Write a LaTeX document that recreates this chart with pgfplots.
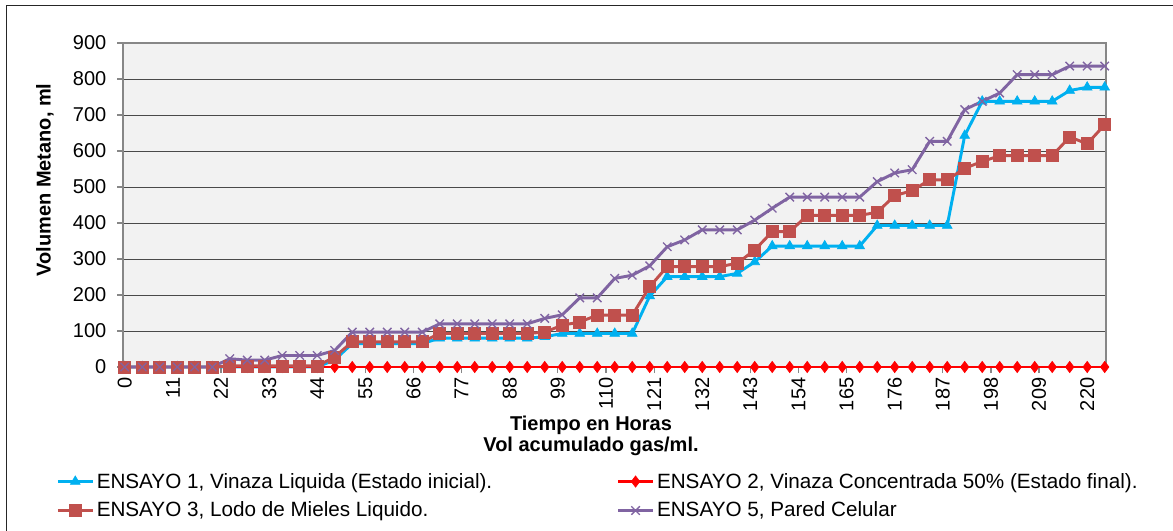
\documentclass[border=0pt]{standalone}
\usepackage{pgfplots}
\pgfplotsset{compat=1.18}
\usepackage{pgfplotstable}
\usepackage{fontspec}
\setmainfont{Liberation Sans}

\definecolor{eblue}{HTML}{00B0F0}
\definecolor{ered}{HTML}{FF0000}
\definecolor{ebrown}{HTML}{C0504D}
\definecolor{epurple}{HTML}{8064A2}
\definecolor{bggray}{HTML}{F2F2F2}
\definecolor{framegray}{HTML}{878787}
\definecolor{gridgray}{HTML}{4A4A4A}

\newcommand\cf{\fontsize{15}{18}\selectfont}
\newcommand\lf{\fontsize{15.5}{18}\selectfont}

% h  e1 e2 e3 e5   (hours, ml)
\pgfplotstableread{
h e1 e2 e3 e5
0 0 0 0 0
4 0 0 0 0
8 0 0 0 0
12 0 0 0 0
16 0 0 0 0
20 0 0 0 0
24 0 0 3 23
28 0 0 3 19
32 0 0 3 19
36 0 0 3 32
40 0 0 3 32
44 0 0 3 32
48 20 0 28 46
52 65 0 70 97
56 65 0 70 97
60 65 0 70 97
64 65 0 70 97
68 65 0 70 97
72 80 0 93 120
76 80 0 93 120
80 80 0 93 120
84 80 0 93 120
88 80 0 93 120
92 80 0 93 120
96 84 0 97 135
100 93 0 116 145
104 93 0 125 192
108 93 0 144 192
112 93 0 144 246
116 93 0 144 255
120 197 0 223 281
124 251 0 279 334
128 251 0 279 353
132 251 0 279 381
136 251 0 279 381
140 260 0 288 381
144 292 0 325 408
148 336 0 376 441
152 336 0 376 472
156 336 0 421 472
160 336 0 421 472
164 336 0 421 472
168 336 0 421 472
172 393 0 430 515
176 393 0 476 539
180 393 0 490 548
184 393 0 520 627
188 393 0 520 627
192 643 0 552 715
196 738 0 571 738
200 738 0 587 761
204 738 0 587 812
208 738 0 587 812
212 738 0 587 812
216 768 0 639 836
220 777 0 620 836
224 777 0 673 836
}\datatable

\begin{document}
\begin{tikzpicture}
\begin{axis}[
    at={(92.25pt,-275.25pt)}, anchor=south west,
    scale only axis,
    width=737.25pt, height=243pt,
    xmin=-0.4, xmax=224.3,
    ymin=0, ymax=900,
    xtick={0,11,...,220},
    ytick={0,100,...,900},
    ymajorgrids,
    grid style={gridgray, line width=0.75pt},
    axis line style={framegray, line width=1.1pt},
    axis background/.style={fill=bggray},
    tick align=outside,
    major tick length=4.5pt,
    tick style={framegray, line width=0.9pt},
    xtick pos=bottom, ytick pos=left,
    /pgf/number format/assume math mode=true,
    tick label style={font=\cf},
    xticklabel style={rotate=90, anchor=east},
    yticklabel style={anchor=east, xshift=-4.5pt},
    clip=false,
    legend columns=2,
    legend cell align=left,
    legend style={draw=none, fill=none, font=\lf,
        at={(-0.072,-0.310)}, anchor=north west,
        row sep=5pt,
        /tikz/every even column/.append style={column sep=0pt},
        nodes={inner xsep=2pt}},
    legend image code/.code={\draw[mark repeat=2, mark phase=2, #1]
        plot coordinates {(0pt,0pt) (13pt,0pt) (26pt,0pt)};},
]
\addplot[eblue, line width=2.2pt, mark=triangle*, mark size=4.2pt,
    mark options={solid, fill=eblue, line width=0.5pt}] table[x=h, y=e1] {\datatable};
\addlegendentry{\makebox[388pt][l]{ENSAYO 1, Vinaza Liquida (Estado inicial).}}
\addplot[ered, line width=2.2pt, mark=diamond*, mark size=4.2pt,
    mark options={solid, fill=ered, line width=0.5pt}] table[x=h, y=e2] {\datatable};
\addlegendentry{ENSAYO 2, Vinaza Concentrada 50\% (Estado final).}
\addplot[ebrown, line width=2.2pt, mark=square*, mark size=4.5pt,
    mark options={solid, fill=ebrown, line width=0.5pt}] table[x=h, y=e3] {\datatable};
\addlegendentry{\makebox[388pt][l]{ENSAYO 3, Lodo de Mieles Liquido.}}
\addplot[epurple, line width=2.2pt, mark=x, mark size=4.5pt,
    mark options={solid, line width=1pt}] table[x=h, y=e5] {\datatable};
\addlegendentry{ENSAYO 5, Pared Celular}
\end{axis}
\begin{scope}[x=0.75pt, y=-0.75pt]
\node[font=\cf\bfseries] at (591,425) {Tiempo en Horas};
\node[font=\cf\bfseries] at (591,446) {Vol acumulado gas/ml.};
\node[font=\cf\bfseries, rotate=90] at (45,180) {Volumen Metano, ml};
\draw[black!85, line width=1pt] (6.5,531) -- (6.5,5.5) -- (1173,5.5);
\pgfresetboundingbox
\path[use as bounding box] (0,0) rectangle (1173,531);
\end{scope}
\end{tikzpicture}
\end{document}
